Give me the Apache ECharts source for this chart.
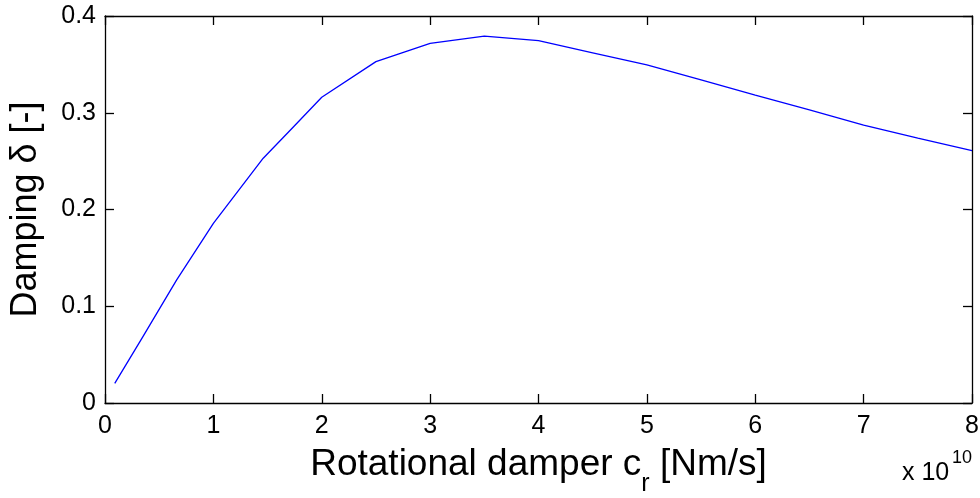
<!DOCTYPE html>
<html>
<head>
<meta charset="utf-8">
<script src="https://cdn.jsdelivr.net/npm/echarts@6/dist/echarts.min.js"></script>
<style>
html,body{margin:0;padding:0;background:#fff;}
#c{width:980px;height:498px;}
</style>
</head>
<body>
<div id="c"></div>
<script>
// Rotational damper c_r [Nm/s]
const damperValues = [0.09e10, 0.35e10, 0.66e10, 1.0e10, 1.46e10, 1.74e10, 2.0e10, 2.5e10, 3.0e10, 3.5e10, 4.0e10, 4.5e10, 5.0e10, 5.5e10, 6.0e10, 6.5e10, 7.0e10, 7.5e10, 8.0e10];
// Damping delta [-]
const dampingValues = [0.0203, 0.0686, 0.127, 0.1857, 0.253, 0.2856, 0.316, 0.3528, 0.3718, 0.3793, 0.3745, 0.362, 0.3494, 0.334, 0.3183, 0.303, 0.2873, 0.2738, 0.2608];
const xTickLabels = ['0', '1', '2', '3', '4', '5', '6', '7', '8'];
const yTickLabels = ['0', '0.1', '0.2', '0.3', '0.4'];
const xScaleBase = 'x 10';
const xScaleExponent = '10';

const FONT = '"Liberation Sans", Arial, sans-serif';
const axisLineStyle = { color: '#000', width: 1.3 };

const chart = echarts.init(document.getElementById('c'), null, { renderer: 'canvas' });
const seriesData = damperValues.map((x, i) => [x, dampingValues[i]]);

chart.setOption({
  animation: false,
  backgroundColor: '#fff',
  grid: { left: 105, right: 8, top: 16, bottom: 95, containLabel: false, outerBoundsMode: 'none' },
  xAxis: [
    {
      type: 'value', position: 'bottom', min: 0, max: 8e10, interval: 1e10,
      axisLine: { show: true, onZero: false, lineStyle: axisLineStyle },
      axisTick: { show: true, inside: true, length: 9, lineStyle: axisLineStyle },
      splitLine: { show: false },
      axisLabel: {
        fontSize: 25, fontFamily: FONT, color: '#000', margin: 11,
        formatter: v => xTickLabels[Math.round(v / 1e10)]
      },
      name: '{m|Rotational damper c}{s|r}{m| [Nm/s]}',
      nameLocation: 'middle', nameGap: 43,
      nameTextStyle: {
        fontFamily: FONT, color: '#000', fontSize: 37,
        rich: {
          m: { fontFamily: FONT, color: '#000', fontSize: 37, verticalAlign: 'top' },
          s: { fontFamily: FONT, color: '#000', fontSize: 25, verticalAlign: 'top', padding: [26, 0, 0, 0] }
        }
      }
    },
    {
      type: 'value', position: 'top', min: 0, max: 8e10, interval: 1e10,
      axisLine: { show: true, onZero: false, lineStyle: axisLineStyle },
      axisTick: { show: true, inside: true, length: 9, lineStyle: axisLineStyle },
      splitLine: { show: false }, axisLabel: { show: false }
    }
  ],
  yAxis: [
    {
      type: 'value', position: 'left', min: 0, max: 0.4, interval: 0.1,
      axisLine: { show: true, onZero: false, lineStyle: axisLineStyle },
      axisTick: { show: true, inside: true, length: 9, lineStyle: axisLineStyle },
      splitLine: { show: false },
      axisLabel: {
        fontSize: 25, fontFamily: FONT, color: '#000', margin: 9,
        formatter: v => yTickLabels[Math.round(v * 10)]
      },
      name: 'Damping δ [-]',
      nameLocation: 'middle', nameGap: 61,
      nameTextStyle: { fontFamily: FONT, color: '#000', fontSize: 36 }
    },
    {
      type: 'value', position: 'right', min: 0, max: 0.4, interval: 0.1,
      axisLine: { show: true, onZero: false, lineStyle: axisLineStyle },
      axisTick: { show: true, inside: true, length: 9, lineStyle: axisLineStyle },
      splitLine: { show: false }, axisLabel: { show: false }
    }
  ],
  graphic: [
    {
      type: 'text', x: 902, y: 473,
      style: { text: xScaleBase, fontFamily: FONT, fontSize: 25, fill: '#000', align: 'left', verticalAlign: 'middle' }
    },
    {
      type: 'text', x: 952, y: 458,
      style: { text: xScaleExponent, fontFamily: FONT, fontSize: 18, fill: '#000', align: 'left', verticalAlign: 'middle' }
    }
  ],
  series: [
    {
      type: 'line', xAxisIndex: 0, yAxisIndex: 0,
      data: seriesData, showSymbol: false, smooth: false,
      lineStyle: { color: '#0000ff', width: 1.3 }
    }
  ]
});
</script>
</body>
</html>
